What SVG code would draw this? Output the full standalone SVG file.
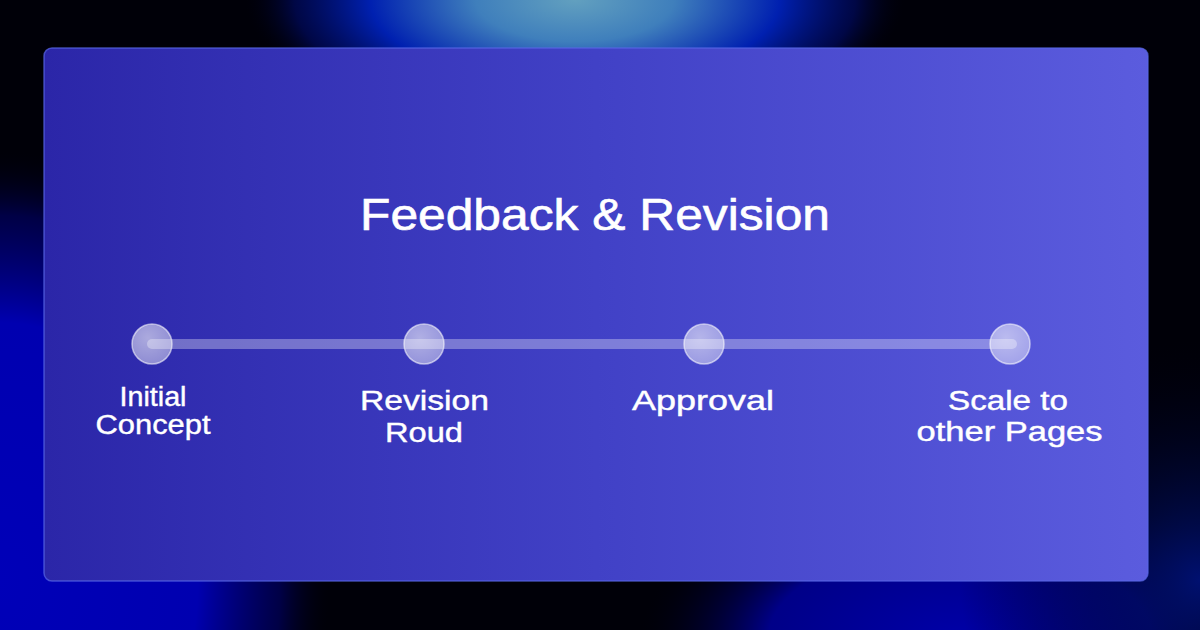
<svg xmlns="http://www.w3.org/2000/svg" width="1200" height="630" viewBox="0 0 1200 630">
  <defs>
    <radialGradient id="glowTop" cx="575" cy="0" r="330" gradientUnits="userSpaceOnUse" gradientTransform="translate(575 0) scale(1 0.42) translate(-575 0)">
      <stop offset="0" stop-color="#62a0bf"/>
      <stop offset="0.3" stop-color="#3f7fbc"/>
      <stop offset="0.62" stop-color="#0020b0"/>
      <stop offset="0.85" stop-color="#000a60" stop-opacity="0.7"/>
      <stop offset="1" stop-color="#000010" stop-opacity="0"/>
    </radialGradient>
    <radialGradient id="glowLeft" cx="0" cy="580" r="330" gradientUnits="userSpaceOnUse" gradientTransform="translate(0 580) scale(1 1.3) translate(0 -580)">
      <stop offset="0" stop-color="#0000b8"/>
      <stop offset="0.6" stop-color="#0000b0"/>
      <stop offset="0.85" stop-color="#000060" stop-opacity="0.7"/>
      <stop offset="1" stop-color="#000010" stop-opacity="0"/>
    </radialGradient>
    <radialGradient id="glowBR" cx="960" cy="640" r="320" gradientUnits="userSpaceOnUse" gradientTransform="translate(960 640) scale(1 0.5) translate(-960 -640)">
      <stop offset="0" stop-color="#0000a8"/>
      <stop offset="0.6" stop-color="#000088"/>
      <stop offset="1" stop-color="#000010" stop-opacity="0"/>
    </radialGradient>
    <radialGradient id="glowR" cx="1200" cy="580" r="240" gradientUnits="userSpaceOnUse">
      <stop offset="0" stop-color="#001070"/>
      <stop offset="1" stop-color="#000010" stop-opacity="0"/>
    </radialGradient>
    <linearGradient id="card" x1="0" y1="0" x2="1" y2="0">
      <stop offset="0" stop-color="#2b26a8"/>
      <stop offset="0.5" stop-color="#4141c6"/>
      <stop offset="1" stop-color="#5b5cde"/>
    </linearGradient>
    <radialGradient id="dot" cx="0.4" cy="0.35" r="0.7">
      <stop offset="0" stop-color="#ffffff" stop-opacity="0.6"/>
      <stop offset="1" stop-color="#ffffff" stop-opacity="0.45"/>
    </radialGradient>
  </defs>
  <style>
    .title { font-family: "Liberation Sans", Arial, sans-serif; font-size: 44px; fill: #ffffff; stroke: #ffffff; stroke-width: 0.6; text-anchor: middle; }
    .label { font-family: "Liberation Sans", Arial, sans-serif; font-size: 27px; fill: #ffffff; stroke: #ffffff; stroke-width: 0.4; text-anchor: middle; }
    .dot { fill: url(#dot); stroke: #ffffff; stroke-opacity: 0.55; stroke-width: 1.5; }
    .track { stroke: #ffffff; stroke-opacity: 0.32; stroke-width: 10; stroke-linecap: round; fill: none; }
  </style>

  <rect x="0" y="0" width="1200" height="630" fill="#000008"/>
  <rect x="0" y="0" width="1200" height="630" fill="url(#glowLeft)"/>
  <rect x="0" y="0" width="1200" height="630" fill="url(#glowBR)"/>
  <rect x="0" y="0" width="1200" height="630" fill="url(#glowR)"/>
  <rect x="0" y="0" width="1200" height="630" fill="url(#glowTop)"/>

  <rect id="card-panel" x="44" y="48" width="1104" height="533" rx="8" fill="url(#card)" stroke="#5866e6" stroke-opacity="0.7" stroke-width="1.5"/>

  <text id="title" class="title" x="595" y="230" textLength="470" lengthAdjust="spacingAndGlyphs">Feedback &amp; Revision</text>

  <g id="connectors">
    <line class="track" x1="152" y1="344" x2="1012" y2="344"/>
  </g>

  <g id="node-initial-concept">
    <circle class="dot" cx="152" cy="344" r="20"/>
    <text class="label" x="153" y="406" textLength="67" lengthAdjust="spacingAndGlyphs">Initial</text>
    <text class="label" x="153" y="434" textLength="115" lengthAdjust="spacingAndGlyphs">Concept</text>
  </g>

  <g id="node-revision-round">
    <circle class="dot" cx="424" cy="344" r="20"/>
    <text class="label" x="424.5" y="410" textLength="129" lengthAdjust="spacingAndGlyphs">Revision</text>
    <text class="label" x="424" y="442" textLength="78" lengthAdjust="spacingAndGlyphs">Roud</text>
  </g>

  <g id="node-approval">
    <circle class="dot" cx="704" cy="344" r="20"/>
    <text class="label" x="703" y="410" textLength="142" lengthAdjust="spacingAndGlyphs">Approval</text>
  </g>

  <g id="node-scale">
    <circle class="dot" cx="1010" cy="344" r="20"/>
    <text class="label" x="1008" y="410" textLength="120" lengthAdjust="spacingAndGlyphs">Scale to</text>
    <text class="label" x="1009.5" y="441" textLength="186" lengthAdjust="spacingAndGlyphs">other Pages</text>
  </g>
</svg>
